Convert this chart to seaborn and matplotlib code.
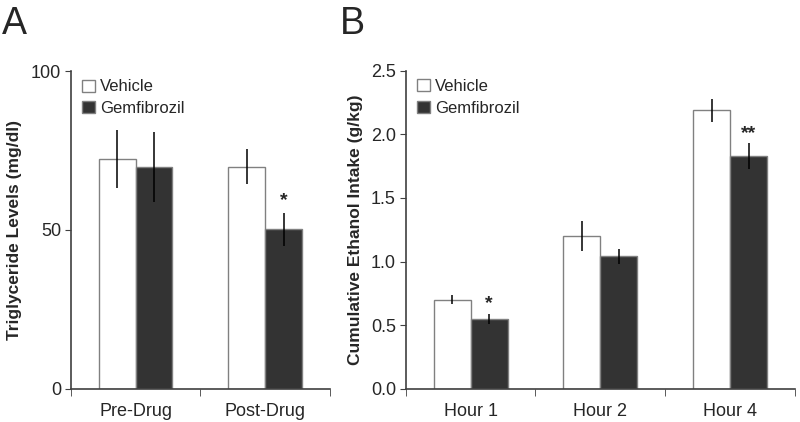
import pandas as pd
import numpy as np
import matplotlib
matplotlib.use("Agg")
import matplotlib.pyplot as plt
import seaborn as sns

# data
groups = ["Vehicle", "Gemfibrozil"]

tg_phase = ["Pre-Drug", "Post-Drug"]
tg_vehicle = [72.3, 69.9]
tg_vehicle_err = [9.0, 5.4]
tg_gem = [69.9, 50.2]
tg_gem_err = [11.0, 5.2]
tg_stars = ["", "*"]

et_hour = ["Hour 1", "Hour 2", "Hour 4"]
et_vehicle = [0.70, 1.20, 2.19]
et_vehicle_err = [0.035, 0.115, 0.09]
et_gem = [0.55, 1.04, 1.83]
et_gem_err = [0.04, 0.058, 0.10]
et_stars = ["*", "", "**"]

sns.set_style("ticks")
plt.rcParams["font.family"] = ["Liberation Sans", "DejaVu Sans"]

fig = plt.figure(figsize=(8, 4.22), dpi=100)
W, H = 800, 422
axA = fig.add_axes([70.7 / W, 1 - 388.7 / H, (330 - 70.7) / W, (388.7 - 71) / H])
axB = fig.add_axes([405.7 / W, 1 - 388.7 / H, (795 - 405.7) / W, (388.7 - 70.7) / H])


def panel(ax, cats, veh, veh_err, gem, gem_err, stars, ymax, yticks, ylabel, star_pad):
    df = pd.DataFrame({
        "cat": cats * 2,
        "group": [groups[0]] * len(cats) + [groups[1]] * len(cats),
        "val": veh + gem,
    })
    sns.barplot(data=df, x="cat", y="val", hue="group", hue_order=groups,
                palette=["white", "#333333"], width=0.57, gap=0,
                edgecolor="#808080", linewidth=1, errorbar=None, ax=ax)
    errs = veh_err + gem_err
    bars = [p for p in ax.patches if p.get_width() > 0 and p.get_height() > 0]
    bars = sorted(bars, key=lambda p: (p.get_facecolor()[0] < 0.5, p.get_x()))
    for p, e in zip(bars, errs):
        cx = p.get_x() + p.get_width() / 2
        ax.errorbar(cx, p.get_height(), yerr=e, color="black", lw=1.1, capsize=0)
    gem_bars = sorted(bars[len(cats):], key=lambda p: p.get_x())
    for p, e, s in zip(gem_bars, gem_err, stars):
        if s:
            ax.text(p.get_x() + p.get_width() / 2, p.get_height() + e + star_pad, s,
                    ha="center", va="bottom", fontsize=14, fontweight="bold")
    ax.set_xlim(-0.5, len(cats) - 0.5)
    ax.set_ylim(0, ymax)
    ax.set_yticks(yticks)
    ax.set_xticks(range(len(cats)))
    ax.set_xticklabels(cats, fontsize=13)
    ax.set_xticks(np.arange(-0.5, len(cats)), minor=True)
    ax.tick_params(axis="x", which="major", length=0, pad=10)
    ax.tick_params(axis="x", which="minor", length=5, color="#404040")
    ax.tick_params(axis="y", length=4, labelsize=13, color="#404040", pad=3)
    ax.set_xlabel("")
    ax.set_ylabel(ylabel, fontsize=12.5, fontweight="bold", labelpad=6)
    for side in ["left", "bottom"]:
        ax.spines[side].set_color("#404040")
        ax.spines[side].set_linewidth(1.2)
    sns.despine(ax=ax)
    handles, labels = ax.get_legend_handles_labels()
    ax.legend(handles, labels, loc="upper left", bbox_to_anchor=(0.0, 1.01),
              frameon=False, fontsize=12, handlelength=0.75, handleheight=0.75,
              handletextpad=0.3, labelspacing=0.4, borderaxespad=0.3)


panel(axA, tg_phase, tg_vehicle, tg_vehicle_err, tg_gem, tg_gem_err, tg_stars,
      100, [0, 50, 100], "Triglyceride Levels (mg/dl)", 1.0)
axA.set_yticklabels(["0", "50", "100"])
panel(axB, et_hour, et_vehicle, et_vehicle_err, et_gem, et_gem_err, et_stars,
      2.5, np.arange(0, 2.51, 0.5), "Cumulative Ethanol Intake (g/kg)", 0.01)
axB.set_yticklabels([f"{v:.1f}" for v in np.arange(0, 2.51, 0.5)])

fig.text(2 / W, 1 - 6 / H, "A", fontsize=27, ha="left", va="top")
fig.text(340 / W, 1 - 6 / H, "B", fontsize=27, ha="left", va="top")

fig.savefig("out.png", dpi=100)
